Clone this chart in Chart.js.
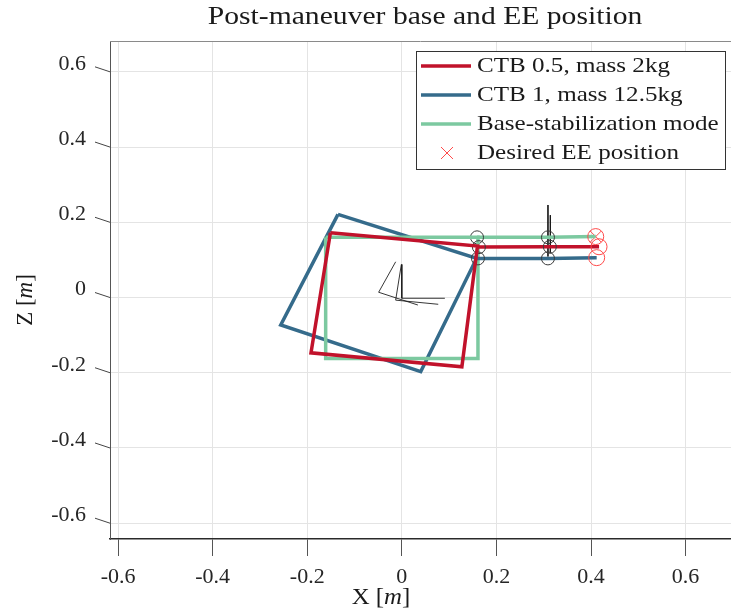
<!DOCTYPE html>
<html>
<head>
<meta charset="utf-8">
<title>Post-maneuver base and EE position</title>
<script src="https://cdn.jsdelivr.net/npm/chart.js@4.4.1/dist/chart.umd.min.js"></script>
<style>
  html, body { margin: 0; padding: 0; background: #fff; }
  canvas { display: block; }
</style>
</head>
<body>
<canvas id="eeChart" width="731" height="613"></canvas>
<script>
// series names, in legend order
const seriesLabels = ['CTB 0.5, mass 2kg', 'CTB 1, mass 12.5kg', 'Base-stabilization mode', 'Desired EE position'];

// base outlines after the maneuver, [x, z] in m (closed)
const baseCtb05 = [[-0.151, 0.172], [0.160, 0.137], [0.127, -0.184], [-0.192, -0.147], [-0.151, 0.172]];
const baseCtb1 = [[-0.135, 0.221], [0.158, 0.104], [0.040, -0.197], [-0.256, -0.073], [-0.135, 0.221]];
const baseStab = [[-0.161, 0.160], [0.161, 0.160], [0.161, -0.162], [-0.161, -0.162], [-0.161, 0.160]];

// arm: base corner, shoulder, elbow, end effector
const armCtb05 = [[0.160, 0.137], [0.163, 0.134], [0.313, 0.135], [0.417, 0.135]];
const armCtb1 = [[0.158, 0.104], [0.161, 0.104], [0.309, 0.104], [0.412, 0.106]];
const armStab = [[0.159, 0.160], [0.309, 0.160], [0.410, 0.162]];

const desiredEE = [[0.410, 0.162]];

// little frame axes at the base centre and at the elbow
const frameLines = [
  [[-0.013, 0.095], [-0.049, 0.014], [0.034, -0.020]],
  [[-0.001, 0.088], [-0.013, -0.007], [0.077, -0.018]],
  [[0, 0.088], [0, -0.002], [0.091, -0.002]],
  [[0.309, 0.246], [0.309, 0.109]],
  [[0.314, 0.219], [0.314, 0.118]]
];

const xTicks = [-0.6, -0.4, -0.2, 0, 0.2, 0.4, 0.6];
const zTicks = [-0.6, -0.4, -0.2, 0, 0.2, 0.4, 0.6];

const RED = '#c1122b';
const BLUE = '#356b8b';
const GREEN = '#7cc9a0';
const EE_RED = '#ff4a4a';
const JOINT = '#3a3a3a';
const SERIF = '"Liberation Serif", "DejaVu Serif", serif';

const toXY = pts => pts.map(([x, y]) => ({ x, y }));

function outline(label, pts, color) {
    return {
        label, data: toXY(pts), showLine: true, borderColor: color,
        borderWidth: 3.5, pointRadius: 0, fill: false, tension: 0
    };
}

// joints get black circles, the end effector a red one
function arm(pts, color) {
    const n = pts.length;
    return {
        label: '', data: toXY(pts), showLine: true, borderColor: color, borderWidth: 3.5,
        pointRadius: ctx => ctx.dataIndex === n - 1 ? 8 : (ctx.dataIndex >= n - 3 ? 6.5 : 0),
        pointBorderColor: ctx => ctx.dataIndex === n - 1 ? EE_RED : JOINT,
        pointBorderWidth: 1, pointBackgroundColor: 'rgba(0,0,0,0)'
    };
}

const datasets = [
    outline(seriesLabels[0], baseCtb05, RED),
    arm(armCtb05, RED),
    arm(armCtb1, BLUE),
    outline(seriesLabels[2], baseStab, GREEN),
    arm(armStab, GREEN),
    outline(seriesLabels[1], baseCtb1, BLUE),
    {
        label: seriesLabels[3], data: toXY(desiredEE), showLine: false,
        pointStyle: 'crossRot', pointRadius: 8, pointBorderColor: EE_RED, pointBorderWidth: 1
    }
];
frameLines.forEach(seg => datasets.push({
    label: '', data: toXY(seg), showLine: true, borderColor: 'rgba(20,20,20,0.85)',
    borderWidth: 1, pointRadius: 0
}));

// serif text stretched a little sideways (wider, TeX-like look)
function wideText(ctx, parts, x, y, size, sx, align) {
    ctx.save();
    ctx.translate(x, y);
    ctx.scale(sx, 1);
    let total = 0;
    parts.forEach(([t, s]) => { ctx.font = s + ' ' + size + 'px ' + SERIF; total += ctx.measureText(t).width; });
    let cx = align === 'center' ? -total / 2 : 0;
    ctx.textAlign = 'left';
    parts.forEach(([t, s]) => {
        ctx.font = s + ' ' + size + 'px ' + SERIF;
        ctx.fillText(t, cx, 0);
        cx += ctx.measureText(t).width;
    });
    ctx.restore();
}

// title, axis labels, slanted z ticks, top edge and the boxed legend
const decorations = {
    id: 'decorations',
    afterDraw(chart) {
        const { ctx, chartArea: a } = chart;
        const yScale = chart.scales.y;
        ctx.save();

        ctx.strokeStyle = '#8a8a8a';
        ctx.lineWidth = 1;
        ctx.beginPath();
        ctx.moveTo(a.left, a.top + 0.5);
        ctx.lineTo(a.right, a.top + 0.5);
        ctx.stroke();

        ctx.strokeStyle = '#444';
        zTicks.forEach(v => {
            const py = yScale.getPixelForValue(v);
            ctx.beginPath();
            ctx.moveTo(a.left - 15, py - 5);
            ctx.lineTo(a.left, py);
            ctx.stroke();
        });

        ctx.fillStyle = '#1a1a1a';
        ctx.textBaseline = 'middle';
        wideText(ctx, [['Post-maneuver base and EE position', 'normal']], 425, 17, 26, 1.14, 'center');

        const unit = letter => [[letter + ' [', 'normal'], ['m', 'italic'], [']', 'normal']];
        wideText(ctx, unit('X'), 381, 598, 23, 1.08, 'center');
        ctx.save();
        ctx.translate(26, 300);
        ctx.rotate(-Math.PI / 2);
        wideText(ctx, unit('Z'), 0, 0, 23, 1.0, 'center');
        ctx.restore();

        // legend
        const items = chart.data.datasets
            .filter(ds => ds.label)
            .sort((p, q) => seriesLabels.indexOf(p.label) - seriesLabels.indexOf(q.label));
        const bx = a.right - 315, by = a.top + 10, bw = 309, rowH = 29;
        const bh = rowH * items.length + 2;
        ctx.fillStyle = '#fff';
        ctx.fillRect(bx, by, bw, bh);
        ctx.strokeStyle = '#333';
        ctx.lineWidth = 1;
        ctx.strokeRect(bx + 0.5, by + 0.5, bw, bh);
        items.forEach((ds, i) => {
            const cy = by + 15 + i * rowH;
            if (ds.showLine) {
                ctx.strokeStyle = ds.borderColor;
                ctx.lineWidth = 3.5;
                ctx.beginPath();
                ctx.moveTo(bx + 5, cy);
                ctx.lineTo(bx + 55, cy);
                ctx.stroke();
            } else {
                ctx.strokeStyle = ds.pointBorderColor;
                ctx.lineWidth = 1;
                ctx.beginPath();
                ctx.moveTo(bx + 25, cy - 6); ctx.lineTo(bx + 37, cy + 6);
                ctx.moveTo(bx + 37, cy - 6); ctx.lineTo(bx + 25, cy + 6);
                ctx.stroke();
            }
            ctx.fillStyle = '#1a1a1a';
            wideText(ctx, [[ds.label, 'normal']], bx + 61, cy, 22, 1.14, 'left');
        });
        ctx.restore();
    }
};

const tickText = v => (v === 0 ? '0' : String(v));

new Chart(document.getElementById('eeChart').getContext('2d'), {
    type: 'scatter',
    data: { datasets },
    options: {
        responsive: false,
        animation: false,
        layout: { autoPadding: false, padding: { top: 41, right: 0, bottom: 0, left: 0 } },
        plugins: { legend: { display: false }, title: { display: false }, tooltip: { enabled: false } },
        scales: {
            x: {
                type: 'linear', min: -0.617, max: 0.696,
                afterBuildTicks: s => { s.ticks = xTicks.map(v => ({ value: v })); },
                afterFit: s => { s.height = 74; s.paddingLeft = 0; s.paddingRight = 0; },
                grid: { color: '#e4e4e4', tickColor: '#555', tickLength: 17 },
                border: { color: '#2a2a2a', width: 1.5 },
                ticks: { font: { family: SERIF, size: 22 }, color: '#262626', padding: 8, maxRotation: 0, callback: tickText }
            },
            y: {
                type: 'linear', min: -0.642, max: 0.682,
                afterBuildTicks: s => { s.ticks = zTicks.map(v => ({ value: v })); },
                afterFit: s => { s.width = 110; s.paddingTop = 0; s.paddingBottom = 0; },
                grid: { color: '#e4e4e4', drawTicks: false },
                border: { color: '#555', width: 1 },
                ticks: { font: { family: SERIF, size: 22 }, color: '#262626', padding: 24, labelOffset: -8, callback: tickText }
            }
        }
    },
    plugins: [decorations]
});
</script>
</body>
</html>
